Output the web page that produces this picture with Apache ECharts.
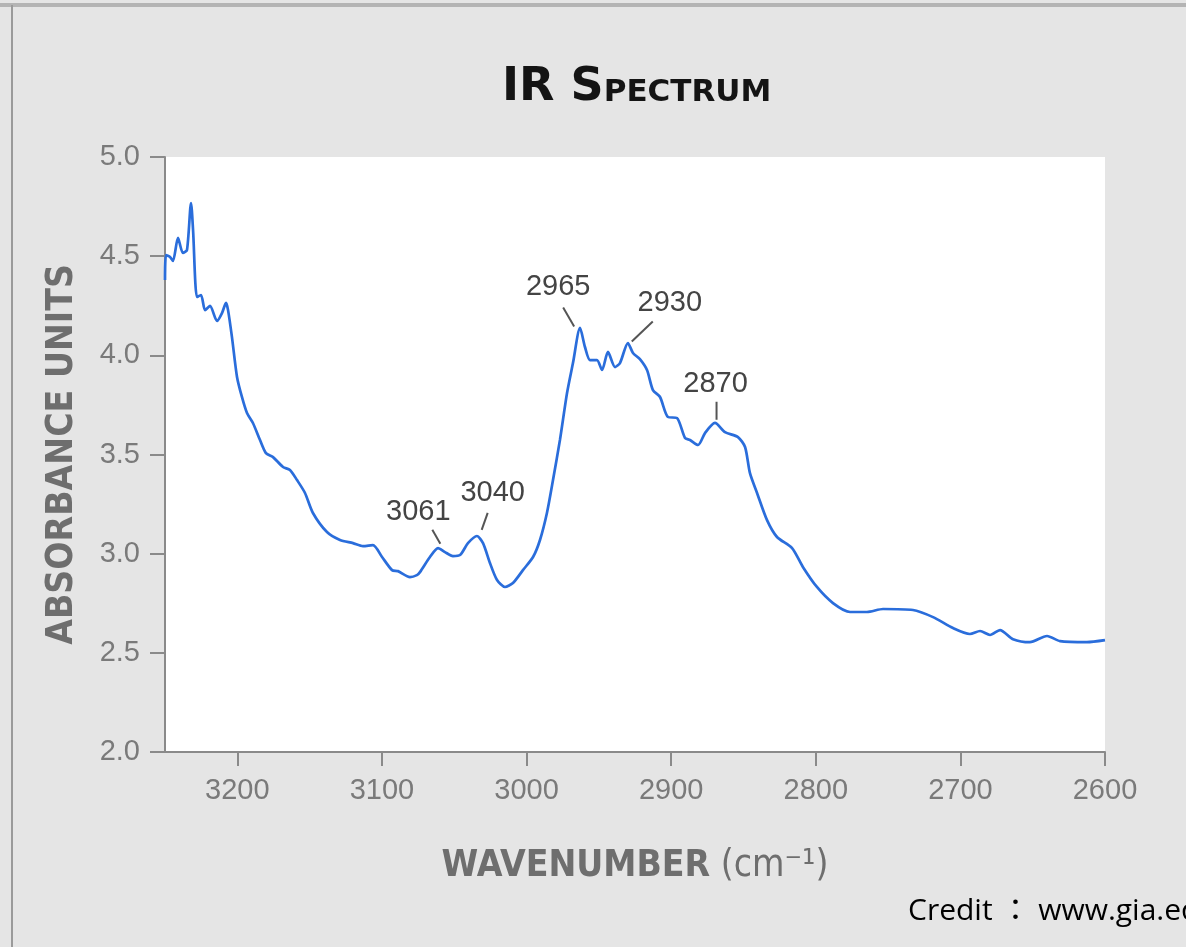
<!DOCTYPE html>
<html>
<head>
<meta charset="utf-8">
<script src="https://cdn.jsdelivr.net/npm/echarts@6/dist/echarts.min.js"></script>
<style>
  html, body { margin: 0; padding: 0; background: #e5e5e5; }
  #chart { width: 1186px; height: 947px; }
</style>
</head>
<body>
<div id="chart"></div>
<script>
// spectrum (wavenumber cm-1, absorbance)
const wavenumber = [
  3250, 3249.3, 3246.5, 3244.5, 3241, 3237.6, 3234.8, 3232, 3230.6, 3227.9,
  3225.1, 3222.3, 3218.9, 3214, 3210.6, 3207.8, 3206.4, 3203.7, 3200.2, 3196.8,
  3193.3, 3189.2, 3184.3, 3180.2, 3175.3, 3168.4, 3163.6, 3158.7, 3153.2, 3147.7,
  3138, 3129, 3120, 3113.1, 3106.2, 3099.9, 3093, 3088.9, 3080.6, 3075.8,
  3073.7, 3066.8, 3061.2, 3056.4, 3050.9, 3046, 3040.5, 3034.3, 3030.1, 3025.3,
  3020.4, 3014.9, 3009.4, 3002.5, 2995.5, 2990.7, 2985.9, 2981.7, 2976.9, 2972,
  2967.9, 2963, 2959.6, 2956.1, 2951.3, 2947.8, 2943.7, 2938.8, 2935.4, 2929.9,
  2926.4, 2921.6, 2916.7, 2912.6, 2907.7, 2902.2, 2896, 2890.4, 2887, 2881.4,
  2876.6, 2869.7, 2862.8, 2853.8, 2848.9, 2845.5, 2840.6, 2833.7, 2826.8, 2816.4,
  2808.8, 2799.2, 2788.1, 2776.3, 2764.6, 2753.5, 2732.8, 2718.9, 2705.1, 2693.4,
  2686.4, 2679.5, 2672.6, 2663.6, 2651.9, 2640.1, 2631.1, 2612.5, 2600
];
const absorbance = [
  4.38, 4.506, 4.496, 4.476, 4.592, 4.516, 4.531, 4.768, 4.632, 4.294,
  4.304, 4.228, 4.249, 4.173, 4.213, 4.264, 4.228, 4.092, 3.891, 3.79,
  3.709, 3.659, 3.573, 3.507, 3.487, 3.437, 3.422, 3.371, 3.306, 3.205,
  3.109, 3.069, 3.053, 3.038, 3.043, 2.983, 2.917, 2.912, 2.882, 2.892,
  2.907, 2.983, 3.028, 3.008, 2.988, 2.993, 3.053, 3.089, 3.053, 2.953,
  2.867, 2.832, 2.852, 2.917, 2.983, 3.069, 3.205, 3.371, 3.573, 3.81,
  3.961, 4.138, 4.042, 3.976, 3.976, 3.926, 4.017, 3.941, 3.961, 4.062,
  4.012, 3.981, 3.926, 3.825, 3.79, 3.689, 3.684, 3.583, 3.573, 3.548,
  3.608, 3.659, 3.613, 3.588, 3.538, 3.406, 3.306, 3.169, 3.084, 3.028,
  2.932, 2.832, 2.751, 2.706, 2.706, 2.721, 2.716, 2.68, 2.625, 2.595,
  2.61, 2.59, 2.615, 2.569, 2.554, 2.585, 2.559, 2.554, 2.564
];
const xTicks = [3200, 3100, 3000, 2900, 2800, 2700, 2600];
const peakLabels = ['3061', '3040', '2965', '2930', '2870'];
const peakWavenumber = [3061, 3040, 2965, 2930, 2870];
const peakAbsorbance = [3.03, 3.09, 4.14, 4.06, 3.66];

// pixel offsets of leader lines and labels from each peak
const annotOffsets = [
  { line: [-6, -18, 2, -4], text: [-20, -36] },
  { line: [19, -23, 13, -6], text: [24, -43] },
  { line: [-14, -20, -3, -1], text: [-19, -41] },
  { line: [25, -22, 4, -2], text: [42, -40] },
  { line: [2, -21, 2, -3], text: [1, -39] }
];

const axisGray = '#8a8a8a';
const labelGray = '#7a7a7a';
const nameFont = "'DejaVu Sans Condensed', 'DejaVu Sans', sans-serif";

const chart = echarts.init(document.getElementById('chart'));
const option = {
  backgroundColor: '#e5e5e5',
  animation: false,
  title: {
    text: '{a|IR S}{b|PECTRUM}',
    left: 497,
    top: 54,
    textStyle: {
      rich: {
        a: { fontFamily: 'DejaVu Sans', fontWeight: 'bold', fontSize: 46, color: '#141414', verticalAlign: 'bottom', lineHeight: 52 },
        b: { fontFamily: 'DejaVu Sans', fontWeight: 'bold', fontSize: 31, color: '#141414', verticalAlign: 'bottom', padding: [0, 0, 3, 0] }
      }
    }
  },
  grid: {
    left: 165,
    right: 81,
    top: 157,
    bottom: 195,
    show: true,
    backgroundColor: '#ffffff',
    borderWidth: 0
  },
  xAxis: {
    type: 'value',
    inverse: true,
    min: 2600,
    max: 3250,
    name: '{a|WAVENUMBER}{b| (cm⁻¹)}',
    nameLocation: 'middle',
    nameGap: 96,
    nameTextStyle: {
      rich: {
        a: { fontFamily: nameFont, fontWeight: 'bold', fontSize: 37, color: '#6e6e6e' },
        b: { fontFamily: nameFont, fontWeight: 'normal', fontSize: 37, color: '#6e6e6e' }
      }
    },
    axisLine: { onZero: false, lineStyle: { color: axisGray, width: 2 } },
    axisTick: { show: true, customValues: xTicks, length: 14, lineStyle: { color: axisGray, width: 2 } },
    axisLabel: {
      customValues: xTicks,
      margin: 24,
      fontSize: 29,
      fontFamily: 'Liberation Sans',
      color: labelGray,
      formatter: v => String(v)
    },
    splitLine: { show: false }
  },
  yAxis: {
    type: 'value',
    min: 2,
    max: 5,
    interval: 0.5,
    name: 'ABSORBANCE UNITS',
    nameLocation: 'middle',
    nameGap: 84,
    nameTextStyle: { fontFamily: nameFont, fontWeight: 'bold', fontSize: 37, color: '#6e6e6e' },
    axisLine: { show: true, onZero: false, lineStyle: { color: axisGray, width: 2 } },
    axisTick: { show: true, length: 15, lineStyle: { color: axisGray, width: 2 } },
    axisLabel: {
      margin: 25,
      fontSize: 29,
      fontFamily: 'Liberation Sans',
      color: labelGray,
      formatter: v => v.toFixed(1)
    },
    splitLine: { show: false }
  },
  series: [
    {
      type: 'line',
      data: wavenumber.map((w, i) => [w, absorbance[i]]),
      showSymbol: false,
      smooth: 0.25,
      lineStyle: { color: '#2a6ddb', width: 2.7 },
      z: 2
    },
    {
      type: 'custom',
      data: peakWavenumber.map((w, i) => [w, peakAbsorbance[i]]),
      clip: false,
      z: 3,
      renderItem: function (params, api) {
        const p = api.coord([api.value(0), api.value(1)]);
        const o = annotOffsets[params.dataIndex];
        return {
          type: 'group',
          children: [
            {
              type: 'line',
              shape: { x1: p[0] + o.line[0], y1: p[1] + o.line[1], x2: p[0] + o.line[2], y2: p[1] + o.line[3] },
              style: { stroke: '#555555', lineWidth: 2 }
            },
            {
              type: 'text',
              x: p[0] + o.text[0],
              y: p[1] + o.text[1],
              style: {
                text: peakLabels[params.dataIndex],
                fontSize: 29,
                fontFamily: 'Liberation Sans',
                fill: '#444444',
                align: 'center',
                verticalAlign: 'middle'
              }
            }
          ]
        };
      }
    }
  ],
  graphic: [
    { type: 'rect', shape: { x: 0, y: 3, width: 1186, height: 4 }, style: { fill: '#b4b4b4' } },
    { type: 'rect', shape: { x: 11, y: 5, width: 2, height: 942 }, style: { fill: '#9a9a9a' } },
    {
      type: 'text',
      left: 908,
      top: 896,
      style: {
        text: 'Credit ： www.gia.edu',
        fontSize: 30,
        fontFamily: "'Open Sans', 'Noto Sans CJK JP', sans-serif",
        fill: '#000000'
      }
    }
  ]
};
chart.setOption(option);
</script>
</body>
</html>
